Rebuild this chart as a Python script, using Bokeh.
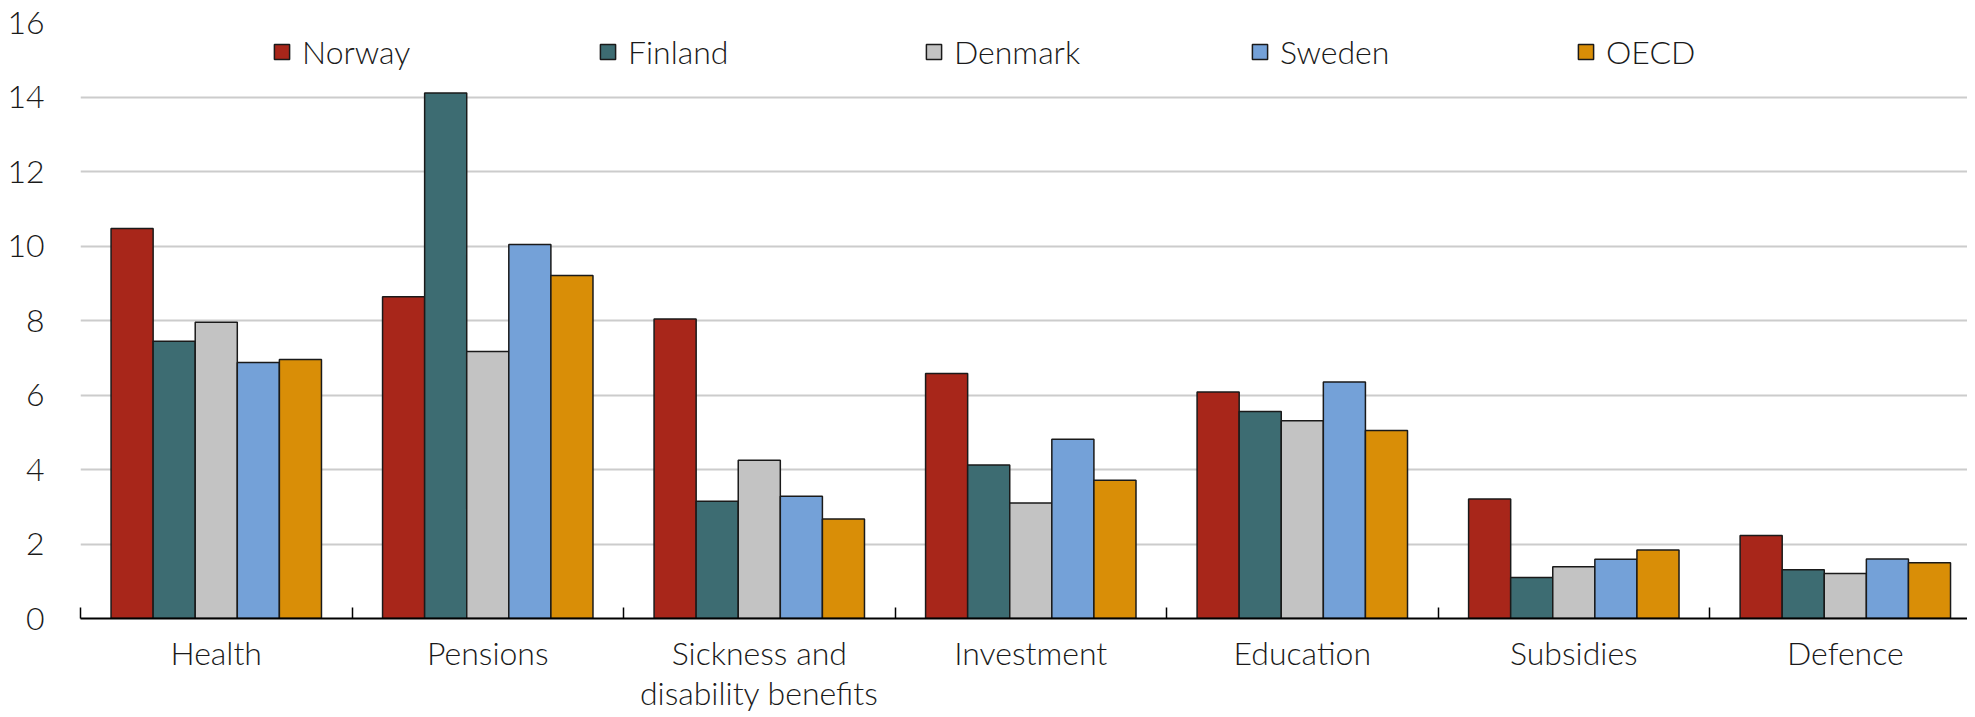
from bokeh.plotting import figure
from bokeh.models import ColumnDataSource, Range1d, FixedTicker, Legend
from bokeh.transform import dodge
from bokeh.embed import file_html
from bokeh.resources import INLINE

categories = ["Health", "Pensions", "Sickness and\ndisability benefits", "Investment",
              "Education", "Subsidies", "Defence"]
series = ["Norway", "Finland", "Denmark", "Sweden", "OECD"]
norway = [10.47, 8.64, 8.04, 6.58, 6.08, 3.21, 2.23]
finland = [7.44, 14.11, 3.15, 4.12, 5.56, 1.10, 1.31]
denmark = [7.95, 7.17, 4.25, 3.10, 5.31, 1.39, 1.21]
sweden = [6.87, 10.04, 3.28, 4.81, 6.35, 1.59, 1.60]
oecd = [6.95, 9.21, 2.67, 3.71, 5.05, 1.84, 1.50]
colors = ["#A8261A", "#3D6C72", "#C3C3C3", "#74A1D8", "#D98E07"]
y_ticks = [0, 2, 4, 6, 8, 10, 12, 14, 16]

FONT = "Lato Light"

n = len(categories)
centers = [i + 0.5 for i in range(n)]
data = {"x": centers, "cat": categories}
for name, vals in zip(series, [norway, finland, denmark, sweden, oecd]):
    data[name] = vals
src = ColumnDataSource(data)

p = figure(width=1967, height=715, output_backend="svg", toolbar_location=None,
           x_range=Range1d(0, 6.95), y_range=Range1d(0, 16),
           min_border_left=80, min_border_right=0, min_border_top=22, min_border_bottom=90)
p.outline_line_color = None
p.background_fill_color = "white"
p.border_fill_color = "white"

bw = 0.155
offsets = [-2 * bw, -bw, 0, bw, 2 * bw]
for i, (name, col, off) in enumerate(zip(series, colors, offsets)):
    r = p.vbar(x=dodge("x", off, range=p.x_range), top=name, width=bw, bottom=0,
               source=src, fill_color=col, line_color="#1a1a1a", line_width=1.5)
    lg = Legend(items=[(name, [r])], location=(192 + 326 * i, 547),
                glyph_width=19, glyph_height=19, label_standoff=11,
                padding=0, margin=0, border_line_color=None,
                background_fill_alpha=0, label_text_font=FONT,
                label_text_font_size="32px", label_text_color="#1a1a1a")
    p.add_layout(lg)

# y axis
p.yaxis.ticker = FixedTicker(ticks=y_ticks)
p.yaxis.axis_line_color = None
p.yaxis.major_tick_line_color = None
p.yaxis.minor_tick_line_color = None
p.yaxis.major_label_standoff = 30
p.yaxis.major_label_text_font = FONT
p.yaxis.major_label_text_font_size = "32px"
p.yaxis.major_label_text_color = "#1a1a1a"

# x axis
p.xaxis.ticker = FixedTicker(ticks=centers, minor_ticks=list(range(n)))
p.xaxis.major_label_overrides = {c: lab for c, lab in zip(centers, categories)}
p.xaxis.axis_line_color = "black"
p.xaxis.axis_line_width = 2
p.xaxis.major_tick_line_color = None
p.xaxis.major_tick_in = 0
p.xaxis.major_tick_out = 0
p.xaxis.minor_tick_in = 11
p.xaxis.minor_tick_out = 0
p.xaxis.minor_tick_line_color = "black"
p.xaxis.minor_tick_line_width = 1.5
p.xaxis.major_label_standoff = 14
p.xaxis.major_label_text_font = FONT
p.xaxis.major_label_text_font_size = "32px"
p.xaxis.major_label_text_line_height = 1.04
p.xaxis.major_label_text_color = "#1a1a1a"

p.xgrid.grid_line_color = None
p.ygrid.grid_line_color = "#cccccc"
p.ygrid.grid_line_width = 2

open("out.html", "w").write(file_html(p, INLINE))
